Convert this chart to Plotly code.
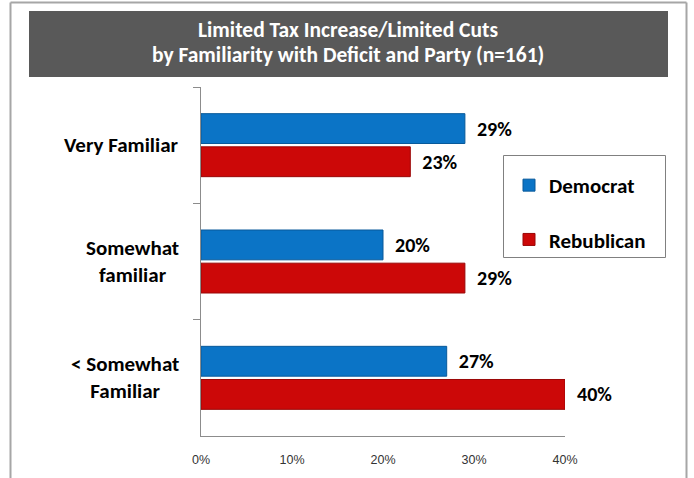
import plotly.graph_objects as go

# Survey results: share choosing "limited tax increase / limited cuts"
categories = ["Very Familiar", "Somewhat familiar", "< Somewhat Familiar"]
category_labels = ["Very Familiar", "Somewhat<br>familiar", "< Somewhat<br>Familiar"]
democrat = [29, 20, 27]
republican = [23, 29, 40]
series_names = ["Democrat", "Rebublican"]
x_ticks = [0, 10, 20, 30, 40]
x_tick_labels = [f"{v}%" for v in x_ticks]

title_lines = ["Limited Tax Increase/Limited Cuts",
               "by Familiarity with Deficit and Party (n=161)"]

FONT = "Carlito, Lato, 'Liberation Sans', sans-serif"
HEAVY = 800
W, H = 694, 478
ML, MR, MT, MB = 201, 129, 87, 42
PW, PH = W - ML - MR, H - MT - MB


def px_x(x):
    return (x - ML) / PW


def px_y(y):
    return (H - MB - y) / PH


label_font = dict(family=FONT, size=20, color="#000000", weight=HEAVY)

fig = go.Figure()
fig.add_trace(go.Bar(
    y=categories, x=democrat, orientation="h", name=series_names[0],
    marker=dict(color="#0B74C6", line=dict(color="#08599A", width=1)),
    text=democrat, texttemplate="\u00a0\u00a0%{text}%", textposition="outside",
    textfont=label_font, cliponaxis=False, legendgroup="d",
))
fig.add_trace(go.Bar(
    y=categories, x=republican, orientation="h", name=series_names[1],
    marker=dict(color="#CC0808", line=dict(color="#9A0606", width=1)),
    text=republican, texttemplate="\u00a0\u00a0%{text}%", textposition="outside",
    textfont=label_font, cliponaxis=False, legendgroup="r",
))

annotations = []
for line, ypix in zip(title_lines, [30, 55]):
    annotations.append(dict(
        text=line, x=px_x(348), y=px_y(ypix),
        xref="paper", yref="paper", xanchor="center", yanchor="middle",
        showarrow=False,
        font=dict(family=FONT, size=21.5, color="#FFFFFF", weight=HEAVY)))
for cat, lab in zip(categories, category_labels):
    annotations.append(dict(
        text=lab, x=px_x(181), y=cat, xref="paper", yref="y",
        xanchor="right", yanchor="middle", align="center", showarrow=False,
        font=dict(family=FONT, size=21, color="#000000", weight=HEAVY)))

shapes = [
    # outer frame (left, top, right)
    dict(type="line", xref="paper", yref="paper", x0=px_x(10.5), x1=px_x(10.5),
         y0=px_y(2.5), y1=px_y(480), line=dict(color="#A6A6A6", width=2)),
    dict(type="line", xref="paper", yref="paper", x0=px_x(10.5), x1=px_x(686.5),
         y0=px_y(2.5), y1=px_y(2.5), line=dict(color="#A6A6A6", width=2)),
    dict(type="line", xref="paper", yref="paper", x0=px_x(686.5), x1=px_x(686.5),
         y0=px_y(2.5), y1=px_y(480), line=dict(color="#A6A6A6", width=2)),
    # title band
    dict(type="rect", xref="paper", yref="paper", x0=px_x(29), x1=px_x(668),
         y0=px_y(77), y1=px_y(11), fillcolor="#595959", line=dict(width=0),
         layer="below"),
    # legend frame
    dict(type="rect", xref="paper", yref="paper", x0=px_x(503.5), x1=px_x(665.5),
         y0=px_y(257.5), y1=px_y(155.5), line=dict(color="#808080", width=1),
         fillcolor="rgba(0,0,0,0)"),
]

fig.update_layout(
    width=W, height=H,
    margin=dict(l=ML, r=MR, t=MT, b=MB, pad=0),
    paper_bgcolor="#FFFFFF", plot_bgcolor="#FFFFFF",
    barmode="group", bargap=0.43, bargroupgap=0.1,
    showlegend=True,
    legend=dict(x=px_x(509), y=px_y(165), xanchor="left", yanchor="top",
                bgcolor="rgba(0,0,0,0)", borderwidth=0,
                font=dict(family=FONT, size=21, color="#000000", weight=HEAVY),
                tracegroupgap=24, traceorder="grouped"),
    annotations=annotations,
    shapes=shapes,
    font=dict(family=FONT),
)
fig.update_xaxes(
    range=[0, 40], tickmode="array", tickvals=x_ticks, ticktext=x_tick_labels,
    showgrid=False, zeroline=False, showline=True, linecolor="#8C8C8C", linewidth=1,
    ticks="", ticklabelstandoff=12,
    tickfont=dict(family="'Liberation Sans', Arial, sans-serif", size=12.5, color="#333333"),
)
fig.update_yaxes(
    categoryorder="array", categoryarray=categories, autorange="reversed",
    showticklabels=False, showgrid=False, zeroline=False,
    showline=True, linecolor="#8C8C8C", linewidth=1,
    ticks="outside", tickson="boundaries", ticklen=7, tickcolor="#8C8C8C",
)

fig.write_html("out.html")
